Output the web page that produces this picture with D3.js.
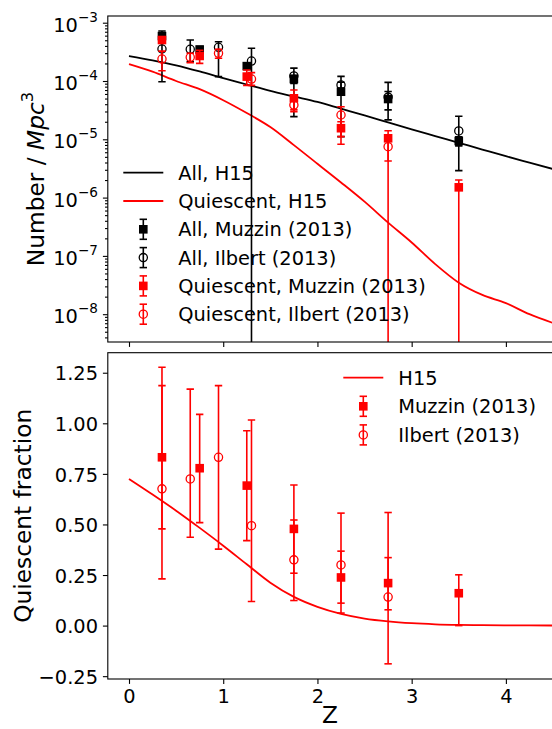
<!DOCTYPE html>
<html>
<head>
<meta charset="utf-8">
<script src="https://cdn.jsdelivr.net/npm/d3@7"></script>
<style>
  body { margin: 0; background: #fff; }
  svg { display: block; }
  text { font-family: "DejaVu Sans", sans-serif; fill: #000; }
</style>
</head>
<body>
<svg id="chart" width="552" height="729"></svg>
<script>
// ---- redshift bins ----
const zMuzzin  = [0.35, 0.75, 1.25, 1.75, 2.25, 2.75, 3.5];
const zIlbert  = [0.35, 0.65, 0.95, 1.3, 1.75, 2.25, 2.75, 3.5];
const zIlbertQ = [0.35, 0.65, 0.95, 1.3, 1.75, 2.25, 2.75];

// ---- number densities (Mpc^-3); lo = 0 means the lower error runs below the axis ----
const allMuzzin   = [5.9e-4, 3.47e-4, 1.80e-4, 1.08e-4, 6.55e-5, 4.91e-5, 9.35e-6];
const allMuzzinLo = [4.6e-4, 3.05e-4, 1.60e-4, 9.1e-5, 1.11e-5, 3.2e-5, 7.7e-6];
const allMuzzinHi = [7.2e-4, 3.9e-4, 2.0e-4, 1.25e-4, 1.2e-4, 6.6e-5, 1.1e-5];

const allIlbert   = [3.54e-4, 3.50e-4, 3.79e-4, 2.20e-4, 1.22e-4, 8.53e-5, 5.3e-5, 1.39e-5];
const allIlbertLo = [9.7e-5, 2.14e-4, 1.19e-4, 0, 2.45e-5, 7.6e-5, 2.15e-5, 2.9e-6];
const allIlbertHi = [6.1e-4, 5.05e-4, 4.72e-4, 3.64e-4, 1.66e-4, 9.5e-5, 9.46e-5, 2.49e-5];

const quMuzzin   = [5.05e-4, 2.69e-4, 1.19e-4, 5.05e-5, 1.55e-5, 1.04e-5, 1.50e-6];
const quMuzzinLo = [4.65e-4, 2.01e-4, 8.4e-5, 2.97e-5, 1.11e-5, 4.25e-6, 0];
const quMuzzinHi = [5.45e-4, 3.37e-4, 1.54e-4, 7.0e-5, 2.0e-5, 1.4e-5, 2.0e-6];

const quIlbert   = [2.38e-4, 2.55e-4, 2.99e-4, 1.08e-4, 3.87e-5, 2.61e-5, 7.46e-6];
const quIlbertLo = [1.50e-4, 2.06e-4, 2.45e-4, 8.4e-5, 3.2e-5, 8.2e-6, 0];
const quIlbertHi = [3.26e-4, 2.99e-4, 3.50e-4, 1.39e-4, 4.6e-5, 3.62e-5, 1.2e-5];

// ---- quiescent fractions ----
const fracMuzzin   = [0.832, 0.778, 0.692, 0.478, 0.238, 0.210, 0.160];
const fracMuzzinLo = [0.478, 0.509, 0.420, 0.259, 0.111, 0.078, 0.0];
const fracMuzzinHi = [1.186, 1.044, 0.963, 0.695, 0.368, 0.336, 0.251];

const fracIlbert   = [0.676, 0.725, 0.832, 0.494, 0.325, 0.300, 0.141];
const fracIlbertLo = [0.231, 0.437, 0.378, 0.119, 0.124, 0.062, -0.189];
const fracIlbertHi = [1.277, 1.169, 1.186, 1.016, 0.522, 0.556, 0.559];

// ---- H15 model curves ----
const zModel = [0, 0.25, 0.5, 0.75, 1, 1.25, 1.5, 1.75, 2, 2.25, 2.5, 2.75, 3, 3.25, 3.5, 3.75, 4, 4.25, 4.5];
const allH15 = [2.685e-4, 2.265e-4, 1.862e-4, 1.462e-4, 1.122e-4, 8.71e-5, 6.76e-5, 5.43e-5, 4.37e-5,
                3.35e-5, 2.57e-5, 1.95e-5, 1.48e-5, 1.135e-5, 8.71e-6, 6.68e-6, 5.13e-6, 3.98e-6, 3.09e-6];
const quH15  = [1.95e-4, 1.445e-4, 1.0e-4, 7.24e-5, 4.68e-5, 2.82e-5, 1.62e-5, 7.94e-6, 3.80e-6,
                1.82e-6, 8.51e-7, 3.72e-7, 1.70e-7, 7.24e-8, 3.47e-8, 2.14e-8, 1.55e-8, 1.0e-8, 7.08e-9];
const fracH15 = [0.725, 0.648, 0.568, 0.483, 0.395, 0.303, 0.212, 0.142, 0.093, 0.058, 0.035, 0.021,
                 0.012, 0.0065, 0.0035, 0.002, 0.0012, 0.0008, 0.0005];

// ---- tick values ----
const xTicks = [0, 1, 2, 3, 4];
const logExponents = [-3, -4, -5, -6, -7, -8];
const fracTicks = [-0.25, 0, 0.25, 0.5, 0.75, 1.0, 1.25];

// ---- layout ----
const FS = 19.4, FS_LABEL = 23.3;
const RED = "#ff0000", BLACK = "#000000";
const left = 107.8, right = 553;
const topPanel = { t: 16, b: 342 };
const botPanel = { t: 352.7, b: 679 };

const svg = d3.select("#chart");
const x = d3.scaleLinear().domain([-0.225, 4.5]).range([left, right]);
const yTop = d3.scaleLog().domain([Math.pow(10, -8.477), Math.pow(10, -2.885)]).range([topPanel.b, topPanel.t]);
const yBot = d3.scaleLinear().domain([-0.264, 1.349]).range([botPanel.b, botPanel.t]);

const defs = svg.append("defs");
function clip(id, p) {
  defs.append("clipPath").attr("id", id).append("rect")
    .attr("x", left).attr("y", p.t).attr("width", right - left).attr("height", p.b - p.t);
}
clip("clipTop", topPanel);
clip("clipBot", botPanel);

function styleAxis(g) {
  g.select(".domain").remove();
  g.selectAll(".tick line").attr("stroke", BLACK).attr("stroke-width", 1.1);
  g.selectAll(".tick text").attr("font-size", FS).attr("font-family", "DejaVu Sans");
}

// ---------- axes: top panel ----------
const gTopAxes = svg.append("g");
gTopAxes.append("g").attr("transform", `translate(0,${topPanel.b})`)
  .call(d3.axisBottom(x).tickValues(xTicks).tickSize(4.9).tickFormat(""))
  .call(styleAxis);

const majorLog = logExponents.map(e => Math.pow(10, e));
const minorLog = [];
for (let e = -9; e <= -3; e++) for (let m = 2; m <= 9; m++) {
  const v = m * Math.pow(10, e);
  const [d0, d1] = yTop.domain();
  if (v >= d0 && v <= d1) minorLog.push(v);
}
gTopAxes.append("g").attr("transform", `translate(${left},0)`)
  .call(d3.axisLeft(yTop).tickValues(majorLog).tickSize(4.9).tickFormat(""))
  .call(styleAxis);
gTopAxes.append("g").attr("transform", `translate(${left},0)`)
  .call(d3.axisLeft(yTop).tickValues(minorLog).tickSize(2.8).tickFormat(""))
  .call(styleAxis);

logExponents.forEach(e => {
  const ty = yTop(Math.pow(10, e));
  const t = gTopAxes.append("text").attr("x", left - 9.8).attr("y", ty + 9)
    .attr("text-anchor", "end").attr("font-size", FS);
  t.append("tspan").text("10");
  t.append("tspan").attr("dy", -10).attr("font-size", FS * 0.7).text("\u2212" + Math.abs(e));
});

// ---------- axes: bottom panel ----------
const gBotAxes = svg.append("g");
gBotAxes.append("g").attr("transform", `translate(0,${botPanel.b})`)
  .call(d3.axisBottom(x).tickValues(xTicks).tickSize(4.9).tickPadding(4.9).tickFormat(d3.format("d")))
  .call(styleAxis);
gBotAxes.append("g").attr("transform", `translate(${left},0)`)
  .call(d3.axisLeft(yBot).tickValues(fracTicks).tickSize(4.9).tickPadding(4.9).tickFormat(d3.format(".2f")))
  .call(styleAxis)
  .call(g => g.selectAll(".tick text").attr("dy", "0.37em"));

// ---------- drawing helpers ----------
const lineGen = (y) => d3.line().x(d => x(d[0])).y(d => y(d[1])).curve(d3.curveMonotoneX);

function drawMarker(g, cx, cy, color, type) {
  if (type === "square") {
    g.append("rect").attr("x", cx - 4.3).attr("y", cy - 4.3).attr("width", 8.6).attr("height", 8.6)
      .attr("fill", color);
  } else {
    g.append("circle").attr("cx", cx).attr("cy", cy).attr("r", 4.1)
      .attr("fill", "none").attr("stroke", color).attr("stroke-width", 1.3);
  }
}

function errorbars(g, y, zs, vals, lo, hi, color, type, panel) {
  const s = g.append("g");
  zs.forEach((z, i) => {
    const cx = x(z);
    const yHi = y(hi[i]);
    const lowOff = (y === yTop && lo[i] <= 0);
    const yLo = lowOff ? panel.b + 20 : y(lo[i]);
    s.append("line").attr("x1", cx).attr("x2", cx).attr("y1", yLo).attr("y2", yHi)
      .attr("stroke", color).attr("stroke-width", 1.6);
    [yHi].concat(lowOff ? [] : [yLo]).forEach(cy => {
      s.append("line").attr("x1", cx - 3.7).attr("x2", cx + 3.7).attr("y1", cy).attr("y2", cy)
        .attr("stroke", color).attr("stroke-width", 1.6);
    });
  });
  zs.forEach((z, i) => drawMarker(s, x(z), y(vals[i]), color, type));
}

// ---------- top panel: number densities ----------
const gTop = svg.append("g").attr("clip-path", "url(#clipTop)");
gTop.append("path").datum(zModel.map((z, i) => [z, allH15[i]]))
  .attr("d", lineGen(yTop)).attr("fill", "none").attr("stroke", BLACK).attr("stroke-width", 1.8);
gTop.append("path").datum(zModel.map((z, i) => [z, quH15[i]]))
  .attr("d", lineGen(yTop)).attr("fill", "none").attr("stroke", RED).attr("stroke-width", 1.8);

errorbars(gTop, yTop, zMuzzin, allMuzzin, allMuzzinLo, allMuzzinHi, BLACK, "square", topPanel);
errorbars(gTop, yTop, zIlbert, allIlbert, allIlbertLo, allIlbertHi, BLACK, "circle", topPanel);
errorbars(gTop, yTop, zMuzzin, quMuzzin, quMuzzinLo, quMuzzinHi, RED, "square", topPanel);
errorbars(gTop, yTop, zIlbertQ, quIlbert, quIlbertLo, quIlbertHi, RED, "circle", topPanel);

// ---------- bottom panel: quiescent fraction ----------
const gBot = svg.append("g").attr("clip-path", "url(#clipBot)");
gBot.append("path").datum(zModel.map((z, i) => [z, fracH15[i]]))
  .attr("d", lineGen(yBot)).attr("fill", "none").attr("stroke", RED).attr("stroke-width", 1.8);
errorbars(gBot, yBot, zMuzzin, fracMuzzin, fracMuzzinLo, fracMuzzinHi, RED, "square", botPanel);
errorbars(gBot, yBot, zIlbertQ, fracIlbert, fracIlbertLo, fracIlbertHi, RED, "circle", botPanel);

// ---------- frames ----------
[topPanel, botPanel].forEach(p => {
  svg.append("rect").attr("x", left).attr("y", p.t).attr("width", right - left).attr("height", p.b - p.t)
    .attr("fill", "none").attr("stroke", BLACK).attr("stroke-width", 1.1);
});

// ---------- legends ----------
function legend(entries, x0, x1, xm, xt, y0, step) {
  const g = svg.append("g");
  entries.forEach((e, i) => {
    const cy = y0 + i * step;
    if (e.kind === "line") {
      g.append("line").attr("x1", x0).attr("x2", x1).attr("y1", cy).attr("y2", cy)
        .attr("stroke", e.color).attr("stroke-width", 1.8);
    } else {
      g.append("line").attr("x1", xm).attr("x2", xm).attr("y1", cy - 10).attr("y2", cy + 10)
        .attr("stroke", e.color).attr("stroke-width", 1.6);
      [cy - 10, cy + 10].forEach(yy => g.append("line").attr("x1", xm - 3.7).attr("x2", xm + 3.7)
        .attr("y1", yy).attr("y2", yy).attr("stroke", e.color).attr("stroke-width", 1.6));
      drawMarker(g, xm, cy, e.color, e.kind);
    }
    g.append("text").attr("x", xt).attr("y", cy + 7).attr("font-size", FS).text(e.label);
  });
}

legend([
  { label: "All, H15", kind: "line", color: BLACK },
  { label: "Quiescent, H15", kind: "line", color: RED },
  { label: "All, Muzzin (2013)", kind: "square", color: BLACK },
  { label: "All, Ilbert (2013)", kind: "circle", color: BLACK },
  { label: "Quiescent, Muzzin (2013)", kind: "square", color: RED },
  { label: "Quiescent, Ilbert (2013)", kind: "circle", color: RED }
], 123.3, 163.3, 143.3, 178.3, 172.7, 28.3);

legend([
  { label: "H15", kind: "line", color: RED },
  { label: "Muzzin (2013)", kind: "square", color: RED },
  { label: "Ilbert (2013)", kind: "circle", color: RED }
], 343.3, 383.3, 363.3, 398.3, 377.7, 28.6);

// ---------- axis titles ----------
const yl1 = svg.append("text").attr("text-anchor", "middle").attr("font-size", FS_LABEL)
  .attr("transform", `translate(44,${(topPanel.t + topPanel.b) / 2}) rotate(-90)`);
yl1.append("tspan").text("Number / ");
yl1.append("tspan").attr("font-style", "italic").text("Mpc");
yl1.append("tspan").attr("dy", -11).attr("font-size", FS_LABEL * 0.7).text("3");

svg.append("text").attr("text-anchor", "middle").attr("font-size", FS_LABEL)
  .attr("transform", `translate(31,${(botPanel.t + botPanel.b) / 2}) rotate(-90)`)
  .text("Quiescent fraction");

svg.append("text").attr("x", (left + 552) / 2).attr("y", 723).attr("text-anchor", "middle")
  .attr("font-size", FS_LABEL).text("Z");
</script>
</body>
</html>
